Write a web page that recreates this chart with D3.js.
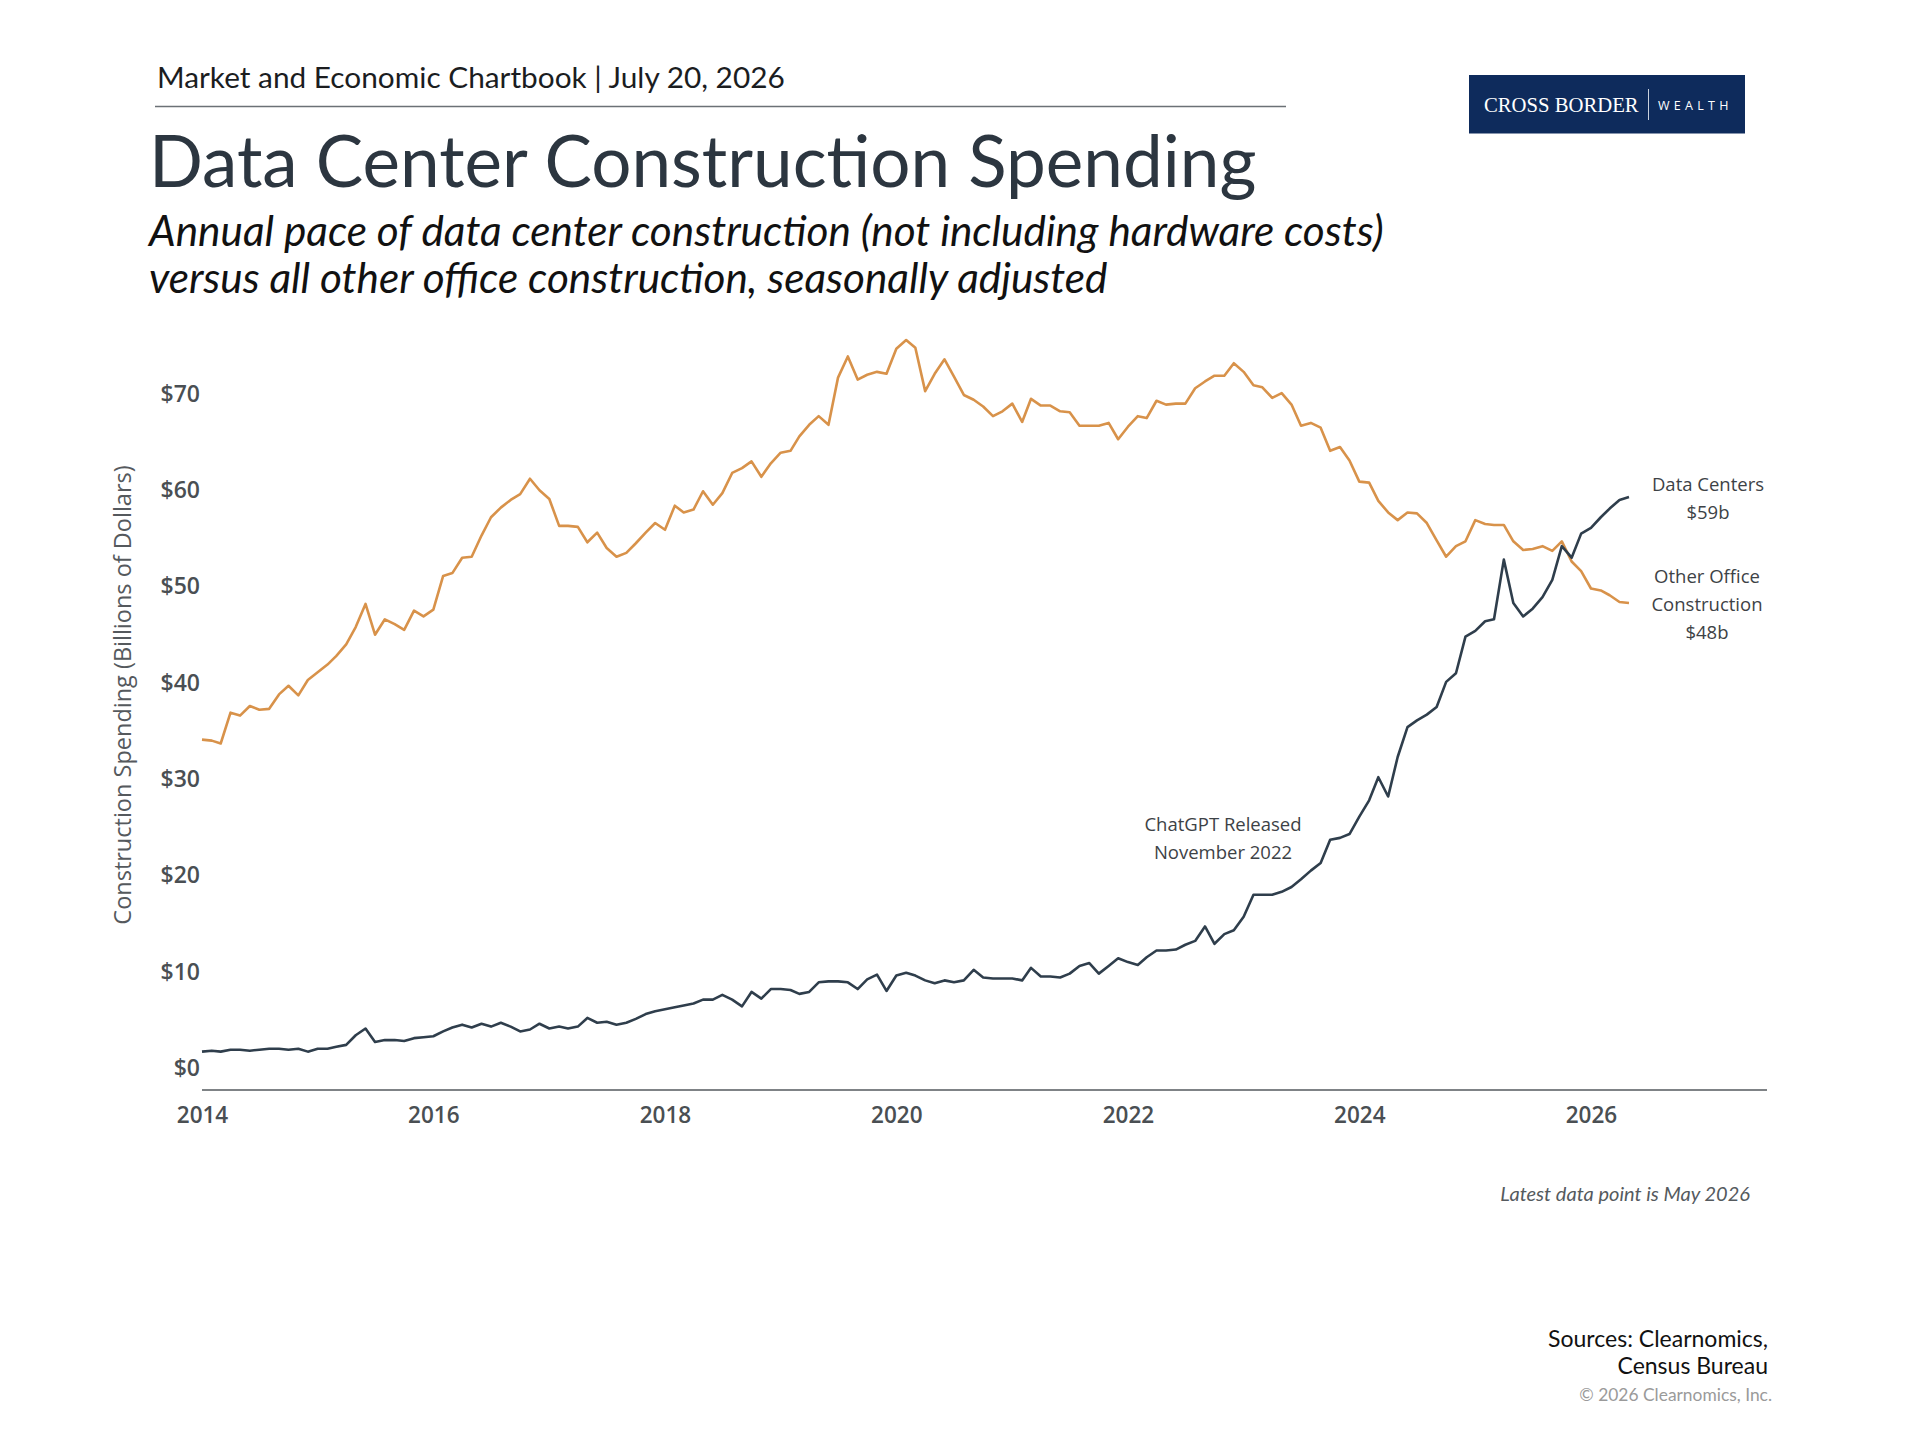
<!DOCTYPE html>
<html>
<head>
<meta charset="utf-8">
<script src="https://cdn.jsdelivr.net/npm/d3@7"></script>
<style>
  body { margin: 0; background: #fff; }
  svg { display: block; }
</style>
</head>
<body>
<svg id="chart" width="1920" height="1440"></svg>
<script>
// monthly values, Jan 2014 .. May 2026 (billions of dollars, SAAR)
const startMonth = new Date(2014, 0, 1);

const otherOffice = [
  34.1, 34.0, 33.7, 36.9, 36.6, 37.6, 37.2, 37.3, 38.8, 39.7, 38.7, 40.3, // 2014
  41.1, 41.9, 42.8, 44.0, 45.8, 48.2, 45.0, 46.6, 46.1, 45.5, 47.5, 46.9, // 2015
  47.6, 51.1, 51.4, 53.0, 53.1, 55.3, 57.2, 58.2, 59.0, 59.6, 61.2, 60.0, // 2016
  59.1, 56.3, 56.3, 56.2, 54.6, 55.6, 54.0, 53.1, 53.5, 54.5, 55.6, 56.6, // 2017
  55.9, 58.4, 57.7, 58.0, 59.9, 58.5, 59.7, 61.8, 62.3, 63.0, 61.4, 62.8, // 2018
  63.9, 64.1, 65.6, 66.8, 67.7, 66.8, 71.7, 73.9, 71.5, 72.0, 72.3, 72.1, // 2019
  74.7, 75.6, 74.8, 70.3, 72.1, 73.6, 71.8, 69.9, 69.4, 68.7, 67.7, 68.2, // 2020
  69.0, 67.1, 69.5, 68.8, 68.8, 68.2, 68.1, 66.7, 66.7, 66.7, 67.0, 65.3, // 2021
  66.6, 67.7, 67.5, 69.3, 68.9, 69.0, 69.0, 70.6, 71.3, 71.9, 71.9, 73.2, // 2022
  72.3, 70.9, 70.7, 69.6, 70.1, 68.9, 66.7, 67.0, 66.5, 64.1, 64.5, 63.1, // 2023
  60.9, 60.8, 58.9, 57.7, 56.9, 57.7, 57.6, 56.6, 54.8, 53.1, 54.2, 54.7, // 2024
  56.9, 56.5, 56.4, 56.4, 54.7, 53.8, 53.9, 54.2, 53.7, 54.7, 52.6, 51.6, // 2025
  49.8, 49.6, 49.1, 48.4, 48.3                                            // 2026
];

const dataCenters = [
  1.7, 1.8, 1.7, 1.9, 1.9, 1.8, 1.9, 2.0, 2.0, 1.9, 2.0, 1.7,             // 2014
  2.0, 2.0, 2.2, 2.4, 3.4, 4.1, 2.7, 2.9, 2.9, 2.8, 3.1, 3.2,             // 2015
  3.3, 3.8, 4.2, 4.5, 4.2, 4.6, 4.3, 4.7, 4.3, 3.8, 4.0, 4.6,             // 2016
  4.1, 4.3, 4.1, 4.3, 5.2, 4.7, 4.8, 4.5, 4.7, 5.1, 5.6, 5.9,             // 2017
  6.1, 6.3, 6.5, 6.7, 7.1, 7.1, 7.6, 7.1, 6.4, 7.9, 7.2, 8.2,             // 2018
  8.2, 8.1, 7.7, 7.9, 8.9, 9.0, 9.0, 8.9, 8.2, 9.2, 9.7, 8.0,             // 2019
  9.6, 9.9, 9.6, 9.1, 8.8, 9.1, 8.9, 9.1, 10.2, 9.4, 9.3, 9.3,            // 2020
  9.3, 9.1, 10.4, 9.5, 9.5, 9.4, 9.8, 10.6, 10.9, 9.8, 10.6, 11.4,        // 2021
  11.0, 10.7, 11.5, 12.2, 12.2, 12.3, 12.8, 13.2, 14.7, 12.9, 13.9, 14.3, // 2022
  15.7, 18.0, 18.0, 18.0, 18.3, 18.8, 19.6, 20.5, 21.3, 23.7, 23.9, 24.3, // 2023
  26.1, 27.8, 30.2, 28.2, 32.3, 35.4, 36.1, 36.7, 37.5, 40.1, 41.0, 44.8, // 2024
  45.4, 46.4, 46.6, 52.8, 48.3, 46.9, 47.7, 48.9, 50.7, 54.2, 53.0, 55.5, // 2025
  56.1, 57.2, 58.1, 59.0, 59.3                                            // 2026
];

const yTicks = [0, 10, 20, 30, 40, 50, 60, 70];
const xTickYears = [2014, 2016, 2018, 2020, 2022, 2024, 2026];

const seriesLabels = {
  dataCenters: ["Data Centers", "$59b"],
  otherOffice: ["Other Office", "Construction", "$48b"]
};
const eventNote = ["ChatGPT Released", "November 2022"];

const colors = { office: "#d8924a", dc: "#2f3e4c", axis: "#555a5e", text: "#3d4246" };

const svg = d3.select("#chart");
svg.append("rect").attr("width", 1920).attr("height", 1440).attr("fill", "#fff");

// ---- header ----
svg.append("text")
  .attr("x", 157).attr("y", 88)
  .attr("font-family", "Lato").attr("font-size", 29.8).attr("fill", "#1b1d1f")
  .text("Market and Economic Chartbook | July 20, 2026");

svg.append("line")
  .attr("x1", 155).attr("x2", 1286).attr("y1", 106.5).attr("y2", 106.5)
  .attr("stroke", "#6b7176").attr("stroke-width", 1.5);

svg.append("text")
  .attr("x", 149).attr("y", 187)
  .attr("font-family", "Lato").attr("font-size", 71).attr("fill", "#2c3640")
  .text("Data Center Construction Spending");

const sub = svg.append("text")
  .attr("font-family", "Lato").attr("font-style", "italic")
  .attr("font-size", 42.3).attr("fill", "#111");
sub.append("tspan").attr("x", 149).attr("y", 246)
  .text("Annual pace of data center construction (not including hardware costs)");
sub.append("tspan").attr("x", 149).attr("y", 293)
  .text("versus all other office construction, seasonally adjusted");

// ---- logo ----
const logo = svg.append("g");
logo.append("rect")
  .attr("x", 1469).attr("y", 75).attr("width", 276).attr("height", 58.5)
  .attr("fill", "#0e2b5c");
logo.append("text")
  .attr("x", 1484).attr("y", 112)
  .attr("font-family", "Liberation Serif").attr("font-size", 20.7).attr("fill", "#fff")
  .text("CROSS BORDER");
logo.append("line")
  .attr("x1", 1648.5).attr("x2", 1648.5).attr("y1", 89).attr("y2", 120)
  .attr("stroke", "#c9d1dd").attr("stroke-width", 1);
logo.append("text")
  .attr("x", 1658).attr("y", 110)
  .attr("font-family", "Open Sans").attr("font-size", 12.5).attr("fill", "#fff")
  .attr("letter-spacing", 4.3)
  .text("WEALTH");

// ---- chart ----
const plotLeft = 202, plotRight = 1767, plotBottom = 1090;
const months = otherOffice.map((_, i) => d3.timeMonth.offset(startMonth, i));

const x = d3.scaleTime()
  .domain([startMonth, d3.timeMonth.offset(startMonth, 148)])
  .range([plotLeft, 1629]);

const y = d3.scaleLinear().domain([0, 70]).range([1068, 394]);

const xAxis = d3.axisBottom(x)
  .tickValues(xTickYears.map(yr => new Date(yr, 0, 1)))
  .tickFormat(d3.timeFormat("%Y"))
  .tickSize(0).tickPadding(17);

const gx = svg.append("g").attr("transform", `translate(0,${plotBottom})`).call(xAxis);
gx.select(".domain").remove();
gx.selectAll("text")
  .attr("font-family", "Open Sans").attr("font-size", 22.5).attr("font-weight", 600)
  .attr("fill", "#4a4f53");

svg.append("line")
  .attr("x1", plotLeft).attr("x2", plotRight).attr("y1", plotBottom).attr("y2", plotBottom)
  .attr("stroke", colors.axis).attr("stroke-width", 1.6);

const yAxis = d3.axisLeft(y)
  .tickValues(yTicks)
  .tickFormat(d => "$" + d)
  .tickSize(0).tickPadding(2);

const gy = svg.append("g").attr("transform", `translate(${plotLeft},0)`).call(yAxis);
gy.select(".domain").remove();
gy.selectAll("text")
  .attr("font-family", "Open Sans").attr("font-size", 23).attr("font-weight", 600)
  .attr("fill", "#4a4f53");

svg.append("text")
  .attr("transform", "translate(125,695) rotate(-90)")
  .attr("text-anchor", "middle").attr("dominant-baseline", "middle")
  .attr("font-family", "Open Sans").attr("font-size", 23.5).attr("fill", "#55595d")
  .text("Construction Spending (Billions of Dollars)");

const line = d3.line()
  .x((d, i) => x(months[i]))
  .y(d => y(d));

svg.append("path")
  .datum(otherOffice)
  .attr("fill", "none").attr("stroke", colors.office).attr("stroke-width", 2.6)
  .attr("stroke-linejoin", "round")
  .attr("d", line);

svg.append("path")
  .datum(dataCenters)
  .attr("fill", "none").attr("stroke", colors.dc).attr("stroke-width", 2.6)
  .attr("stroke-linejoin", "round")
  .attr("d", line);

// ---- annotations ----
function block(lines, cx, y0, step) {
  const t = svg.append("text")
    .attr("text-anchor", "middle")
    .attr("font-family", "Open Sans").attr("font-size", 18.5).attr("fill", colors.text);
  lines.forEach((s, i) => t.append("tspan").attr("x", cx).attr("y", y0 + i * step).text(s));
}
block(seriesLabels.dataCenters, 1708, 491, 27.5);
block(seriesLabels.otherOffice, 1707, 583, 28);
block(eventNote, 1223, 831, 27.5);

svg.append("text")
  .attr("x", 1750).attr("y", 1201).attr("text-anchor", "end")
  .attr("font-family", "Lato").attr("font-style", "italic")
  .attr("font-size", 20).attr("fill", "#555a5e")
  .text("Latest data point is May 2026");

// ---- footer ----
const src = svg.append("text")
  .attr("text-anchor", "end")
  .attr("font-family", "Lato").attr("font-size", 23).attr("fill", "#111");
src.append("tspan").attr("x", 1768).attr("y", 1347).text("Sources: Clearnomics,");
src.append("tspan").attr("x", 1768).attr("y", 1374).text("Census Bureau");

svg.append("text")
  .attr("x", 1772).attr("y", 1401).attr("text-anchor", "end")
  .attr("font-family", "Lato").attr("font-size", 17.4).attr("fill", "#9a9a9a")
  .text("\u00a9 2026 Clearnomics, Inc.");
</script>
</body>
</html>
